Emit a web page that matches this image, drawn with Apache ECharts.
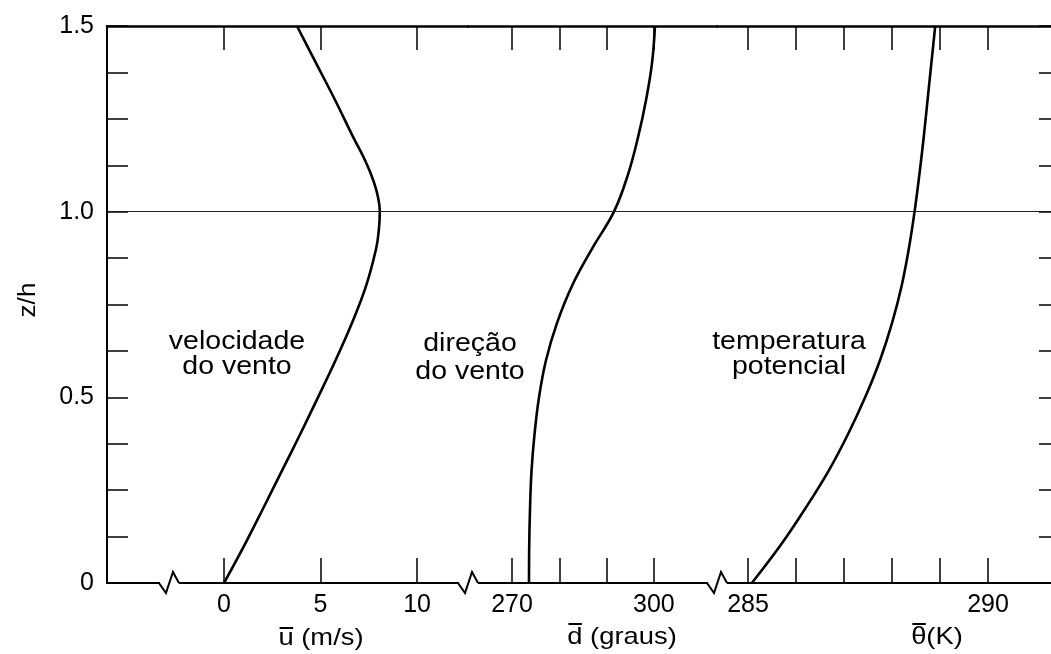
<!DOCTYPE html>
<html>
<head>
<meta charset="utf-8">
<script src="https://cdn.jsdelivr.net/npm/echarts@6/dist/echarts.min.js"></script>
<style>
  html, body { margin: 0; padding: 0; background: #fff; }
  #chart { width: 1051px; height: 654px; }
</style>
</head>
<body>
<div id="chart"></div>
<script>
// ---- profile data (z/h against each quantity) ----
const windZ = [0, 0.1, 0.2, 0.3, 0.4, 0.5, 0.6, 0.7, 0.8, 0.9, 0.95, 1.0, 1.05, 1.1, 1.15, 1.2, 1.3, 1.4, 1.5];
const windU = [0, 1.04, 2.02, 2.98, 3.94, 4.87, 5.78, 6.63, 7.36, 7.88, 8.02, 8.07, 7.93, 7.62, 7.2, 6.7, 5.76, 4.77, 3.78];

const dirZ = [0, 0.1, 0.2, 0.3, 0.4, 0.5, 0.6, 0.7, 0.8, 0.9, 1.0, 1.1, 1.2, 1.3, 1.4, 1.5];
const dirD = [273.59, 273.64, 273.81, 274.12, 274.76, 275.71, 277.19, 279.51, 282.68, 286.91, 291.56, 294.52, 296.64, 298.33, 299.6, 300.23];

const thetaZ = [0, 0.1, 0.2, 0.3, 0.4, 0.5, 0.6, 0.7, 0.8, 0.9, 1.0, 1.1, 1.2, 1.3, 1.4, 1.5];
const thetaT = [285.08, 285.67, 286.19, 286.67, 287.08, 287.44, 287.75, 288.0, 288.2, 288.35, 288.47, 288.57, 288.66, 288.74, 288.82, 288.9];

// ---- axis ranges, ticks and labels ----
const uRange = [-6.06, 12.64];
const dRange = [260.7, 313.34];
const tRange = [284.354, 291.333];
const zRange = [0, 1.5];

const uTicks = [0, 5, 10];
const uLabels = [0, 5, 10];
const dTicks = [270, 280, 290, 300];
const dLabels = [270, 300];
const tTicks = [285, 286, 287, 288, 289, 290];
const tLabels = [285, 290];
const zLabels = [0, 0.5, 1.0, 1.5];

// axis-break positions (in each axis' own units)
const uBreaks = [-2.85, 12.64];
const dBreaks = [313.34];

// text
const curveNames = ['velocidade\ndo vento', 'direção\ndo vento', 'temperatura\npotencial'];
const axisTitles = [
  { first: 'u', rest: ' (m/s)' },
  { first: 'd', rest: ' (graus)' },
  { first: 'θ', rest: '(K)' }
];
const zTitle = 'z/h';

const FONT = 'Liberation Sans';
const INK = '#000';
const STRETCH = 1.14;   // lettering in this figure is set slightly wide

const chart = echarts.init(document.getElementById('chart'), null, { renderer: 'canvas' });

function bottomAxis(gridIndex, range, ticks, labels) {
  return {
    type: 'value', gridIndex, position: 'bottom', min: range[0], max: range[1],
    axisLine: { show: true, onZero: false, lineStyle: { color: INK, width: 2 } },
    axisTick: { show: true, inside: true, length: 25, customValues: ticks, lineStyle: { color: INK, width: 1.5 } },
    axisLabel: { show: labels.length > 0, customValues: labels, color: INK, fontSize: 25, fontFamily: FONT, margin: 10 },
    splitLine: { show: false }
  };
}
function topAxis(gridIndex, range, ticks) {
  return {
    type: 'value', gridIndex, position: 'top', min: range[0], max: range[1],
    axisLine: { show: true, onZero: false, lineStyle: { color: INK, width: 2.5 } },
    axisTick: { show: true, inside: true, length: 24, customValues: ticks, lineStyle: { color: INK, width: 1.5 } },
    axisLabel: { show: false },
    splitLine: { show: false }
  };
}

function profile(name, zs, vs, xAxisIndex, yAxisIndex) {
  return {
    name, type: 'line', xAxisIndex, yAxisIndex,
    data: zs.map((z, i) => [vs[i], z]),
    showSymbol: false, symbol: 'none', smooth: 0.4,
    lineStyle: { color: INK, width: 2.6 },
    markLine: {
      silent: true, symbol: ['none', 'none'], label: { show: false },
      lineStyle: { color: '#222', width: 1.2, type: 'solid' },
      data: [{ yAxis: 1 }]
    }
  };
}

// zig-zag break mark drawn across the bottom axis line
function breakSeries(values, xAxisIndex, yAxisIndex) {
  return {
    type: 'custom', xAxisIndex, yAxisIndex, clip: false, silent: true, z: 5,
    data: values.map(v => [v, 0]),
    renderItem(params, api) {
      const p = api.coord([api.value(0), 0]);
      const x = p[0], y = p[1];
      return {
        type: 'group',
        children: [
          { type: 'line', shape: { x1: x - 9, y1: y, x2: x + 10, y2: y }, style: { stroke: '#fff', lineWidth: 4 } },
          { type: 'polyline', shape: { points: [[x - 10, y], [x - 3, y + 10], [x + 4, y - 11], [x + 10, y]] },
            style: { stroke: INK, lineWidth: 2, fill: null } }
        ]
      };
    }
  };
}

// axis titles with an overbar on the leading symbol
const measure = document.createElement('canvas').getContext('2d');
const TITLE_SIZE = 24;
function axisTitle(t, cx, cy, barY) {
  measure.font = TITLE_SIZE + 'px "' + FONT + '"';
  const wFirst = measure.measureText(t.first).width;
  const wAll = measure.measureText(t.first + t.rest).width;
  const x0 = -wAll / 2;
  return {
    type: 'group', x: cx, y: 0, scaleX: STRETCH,
    children: [
      { type: 'text', x: x0, y: cy,
        style: { text: t.first + t.rest, fill: INK, fontSize: TITLE_SIZE, fontFamily: FONT,
                 align: 'left', verticalAlign: 'middle', textAlign: 'left', textVerticalAlign: 'middle' } },
      { type: 'line', shape: { x1: x0 + 1, y1: barY, x2: x0 + wFirst - 0.5, y2: barY },
        style: { stroke: INK, lineWidth: 2 } }
    ]
  };
}
function note(text, cx, top, lineHeight) {
  return {
    type: 'text', x: cx, y: top, scaleX: STRETCH,
    style: { text, fill: INK, fontSize: 25, fontFamily: FONT, lineHeight,
             align: 'center', verticalAlign: 'top', textAlign: 'center', textVerticalAlign: 'top' }
  };
}

const option = {
  animation: false,
  backgroundColor: '#fff',
  grid: [
    { left: 107, top: 26, width: 361, height: 557, outerBoundsMode: 'none', containLabel: false },
    { left: 468, top: 26, width: 249, height: 557, outerBoundsMode: 'none', containLabel: false },
    { left: 717, top: 26, width: 335, height: 557, outerBoundsMode: 'none', containLabel: false }
  ],
  xAxis: [
    bottomAxis(0, uRange, uTicks, uLabels),
    topAxis(0, uRange, uTicks),
    bottomAxis(1, dRange, dTicks, dLabels),
    topAxis(1, dRange, dTicks),
    bottomAxis(2, tRange, tTicks, tLabels),
    topAxis(2, tRange, tTicks)
  ],
  yAxis: [
    {
      type: 'value', gridIndex: 0, position: 'left', min: zRange[0], max: zRange[1], interval: 0.125,
      axisLine: { show: true, onZero: false, lineStyle: { color: INK, width: 2 } },
      axisTick: { show: true, inside: true, length: 21, lineStyle: { color: INK, width: 1.5 } },
      axisLabel: { customValues: zLabels, color: INK, fontSize: 25, fontFamily: FONT, margin: 13,
                   formatter: v => (v === 0 ? '0' : v.toFixed(1)) },
      splitLine: { show: false }
    },
    { type: 'value', gridIndex: 1, min: zRange[0], max: zRange[1], show: false, splitLine: { show: false } },
    {
      type: 'value', gridIndex: 2, position: 'right', min: zRange[0], max: zRange[1], interval: 0.125,
      axisLine: { show: true, onZero: false, lineStyle: { color: INK, width: 2 } },
      axisTick: { show: true, inside: true, length: 13, lineStyle: { color: INK, width: 1.5 } },
      axisLabel: { show: false },
      splitLine: { show: false }
    }
  ],
  series: [
    profile('velocidade', windZ, windU, 0, 0),
    profile('direção', dirZ, dirD, 2, 1),
    profile('temperatura', thetaZ, thetaT, 4, 2),
    breakSeries(uBreaks, 0, 0),
    breakSeries(dBreaks, 2, 1)
  ],
  graphic: [
    note(curveNames[0], 237, 330, 25),
    note(curveNames[1], 470, 330, 28),
    note(curveNames[2], 789, 330, 25),
    axisTitle(axisTitles[0], 321, 638, 628),
    axisTitle(axisTitles[1], 622, 637, 624),
    axisTitle(axisTitles[2], 937, 637, 624),
    { type: 'text', x: 29, y: 300, rotation: Math.PI / 2, scaleX: STRETCH,
      style: { text: zTitle, fill: INK, fontSize: 23, fontFamily: FONT,
               align: 'center', verticalAlign: 'middle', textAlign: 'center', textVerticalAlign: 'middle' } }
  ]
};

chart.setOption(option);
</script>
</body>
</html>
